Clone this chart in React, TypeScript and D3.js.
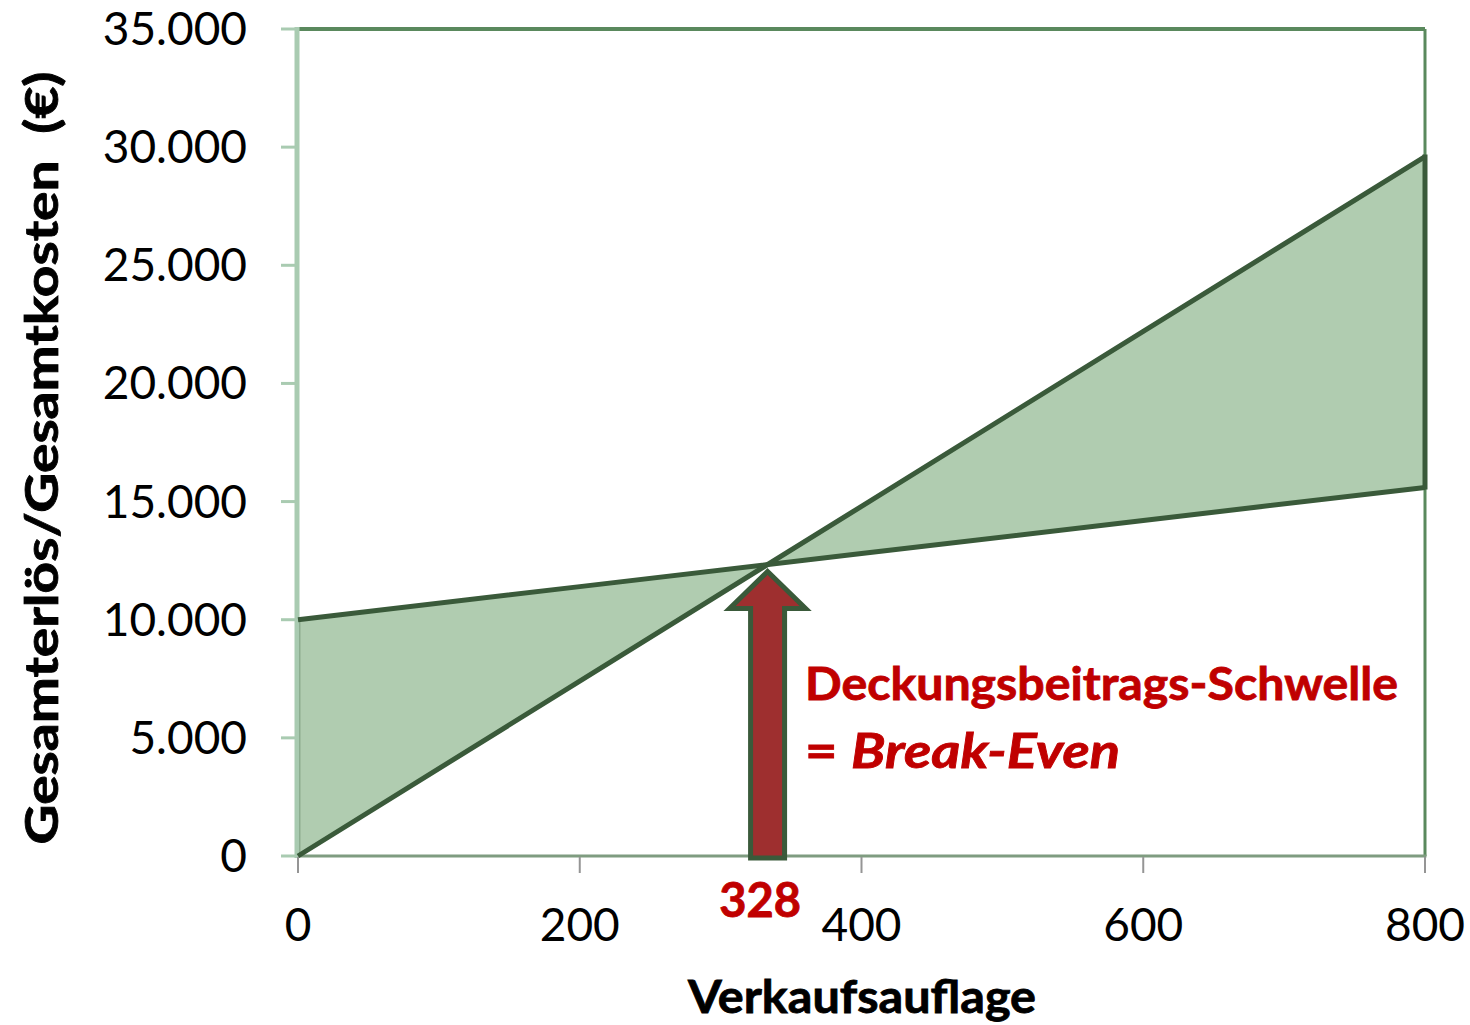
import * as d3 from "d3";

// volumes on the x axis and the two series
const volumes = [0, 200, 400, 600, 800];
const revenue = [0, 7400, 14800, 22200, 29600]; // Gesamterlös
const costs = [10000, 11400, 12800, 14200, 15600]; // Gesamtkosten
const breakEvenLabel = 328;

const xTicks = [0, 200, 400, 600, 800];
const yTicks = [0, 5000, 10000, 15000, 20000, 25000, 30000, 35000];

const yTitle = "Gesamterlös/Gesamtkosten  (€)";
const xTitle = "Verkaufsauflage";
const noteLine1 = "Deckungsbeitrags-Schwelle";
const noteLine2a = "= ";
const noteLine2b = "Break-Even";

const W = 1470;
const H = 1025;
const margin = { top: 29, right: 45, bottom: 169, left: 298 };

const font = "Lato, 'Open Sans', sans-serif";
const darkGreen = "#3a5a3a";
const fillGreen = "#b0ccb0";
const red = "#c00000";

const de = d3.formatLocale({
  decimal: ",",
  thousands: ".",
  grouping: [3],
  currency: ["", " €"],
});
const fmt = de.format(",");

export default function App() {
  const x = d3
    .scaleLinear()
    .domain([0, 800])
    .range([margin.left, W - margin.right]);
  const y = d3
    .scaleLinear()
    .domain([0, 35000])
    .range([H - margin.bottom, margin.top]);

  const rows = volumes.map((v, i) => ({ v, r: revenue[i], c: costs[i] }));

  const area = d3
    .area<{ v: number; r: number; c: number }>()
    .x((d) => x(d.v))
    .y0((d) => y(d.c))
    .y1((d) => y(d.r));

  const line = d3
    .line<[number, number]>()
    .x((d) => x(d[0]))
    .y((d) => y(d[1]));

  // find where revenue crosses costs (linear between points)
  let be: [number, number] = [0, 0];
  for (let i = 0; i < rows.length - 1; i += 1) {
    const d0 = rows[i].r - rows[i].c;
    const d1 = rows[i + 1].r - rows[i + 1].c;
    if (d0 <= 0 && d1 >= 0) {
      const t = d0 / (d0 - d1);
      const v = rows[i].v + t * (rows[i + 1].v - rows[i].v);
      const val = rows[i].r + t * (rows[i + 1].r - rows[i].r);
      be = [v, val];
    }
  }

  const x0 = x(0);
  const x1 = x(800);
  const yb = y(0);
  const yt = y(35000);

  // arrow pointing up to the break-even point
  const ax = x(be[0]);
  const tipY = y(be[1]) + 7;
  const headY = tipY + 37;
  const headW = 38;
  const shaftW = 17;
  const baseY = yb + 2;
  const arrow = `M${ax},${tipY} L${ax + headW},${headY} L${ax + shaftW},${headY} L${ax + shaftW},${baseY} L${ax - shaftW},${baseY} L${ax - shaftW},${headY} L${ax - headW},${headY} Z`;

  const last = rows[rows.length - 1];

  return (
    <svg
      width={W}
      height={H}
      style={{ position: "absolute", left: 0, top: 0, display: "block", background: "#fff" }}
      fontFamily={font}
    >
      {/* filled area between the two lines */}
      <path d={area(rows) || ""} fill={fillGreen} stroke="none" />
      <line x1={x0 + 1.5} x2={x0 + 1.5} y1={y(rows[0].c)} y2={yb} stroke="#6f8f6f" strokeWidth={1.5} />

      {/* plot frame */}
      <line x1={x0} x2={x1} y1={yt} y2={yt} stroke="#5a895d" strokeWidth={4} />
      <line x1={x1} x2={x1} y1={yt} y2={yb} stroke="#5a895d" strokeWidth={3} />
      <line x1={x0} x2={x1 + 1.5} y1={yb} y2={yb} stroke="#7f9c80" strokeWidth={3} />

      {/* left axis */}
      <line x1={x0 - 1} x2={x0 - 1} y1={yt - 2} y2={yb + 2} stroke="#a9cbb1" strokeWidth={5} />
      {yTicks.map((t) => (
        <g key={t}>
          <line x1={x0 - 17} x2={x0 - 1} y1={y(t)} y2={y(t)} stroke="#a9cbb1" strokeWidth={3} />
          <text x={247} y={y(t) + 16} textAnchor="end" fontSize={46} fill="#000">
            {fmt(t)}
          </text>
        </g>
      ))}

      {/* bottom axis */}
      {xTicks.map((t) => (
        <g key={t}>
          <line x1={x(t)} x2={x(t)} y1={yb + 1} y2={yb + 17} stroke="#959595" strokeWidth={2} />
          <text x={x(t)} y={941} textAnchor="middle" fontSize={46} fill="#000">
            {t}
          </text>
        </g>
      ))}

      {/* series lines */}
      <path d={line(rows.map((d) => [d.v, d.c])) || ""} fill="none" stroke={darkGreen} strokeWidth={5} />
      <path d={line(rows.map((d) => [d.v, d.r])) || ""} fill="none" stroke={darkGreen} strokeWidth={5} />
      <line x1={x1} x2={x1} y1={y(last.r) - 2} y2={y(last.c) + 2} stroke={darkGreen} strokeWidth={5} />

      {/* break-even arrow */}
      <path d={arrow} fill="#9e2f2f" stroke={darkGreen} strokeWidth={5} strokeLinejoin="miter" />

      <text x={x(breakEvenLabel)} y={917} textAnchor="middle" fontSize={47} fontWeight="bold" fill={red} stroke={red} strokeWidth={0.8}>
        {breakEvenLabel}
      </text>

      {/* annotation */}
      <text x={805} y={700} fontSize={45} fontWeight="bold" fill={red} stroke={red} strokeWidth={0.8} textLength={593} lengthAdjust="spacingAndGlyphs">
        {noteLine1}
      </text>
      <text x={805} y={768} fontSize={48} fontWeight="bold" fill={red} stroke={red} strokeWidth={0.8} textLength={315} lengthAdjust="spacingAndGlyphs">
        {noteLine2a}
        <tspan fontStyle="italic">{noteLine2b}</tspan>
      </text>

      {/* axis titles */}
      <text x={862} y={1013} textAnchor="middle" fontSize={45} fontWeight="bold" fill="#000" stroke="#000" strokeWidth={0.8} textLength={348} lengthAdjust="spacingAndGlyphs">
        {xTitle}
      </text>
      <text
        transform={`translate(58,458) rotate(-90)`}
        textAnchor="middle"
        fontSize={45}
        fontWeight="bold"
        fill="#000"
        stroke="#000"
        strokeWidth={0.8}
        style={{ whiteSpace: "pre" }}
        textLength={773}
        lengthAdjust="spacingAndGlyphs"
      >
        {yTitle}
      </text>
    </svg>
  );
}
